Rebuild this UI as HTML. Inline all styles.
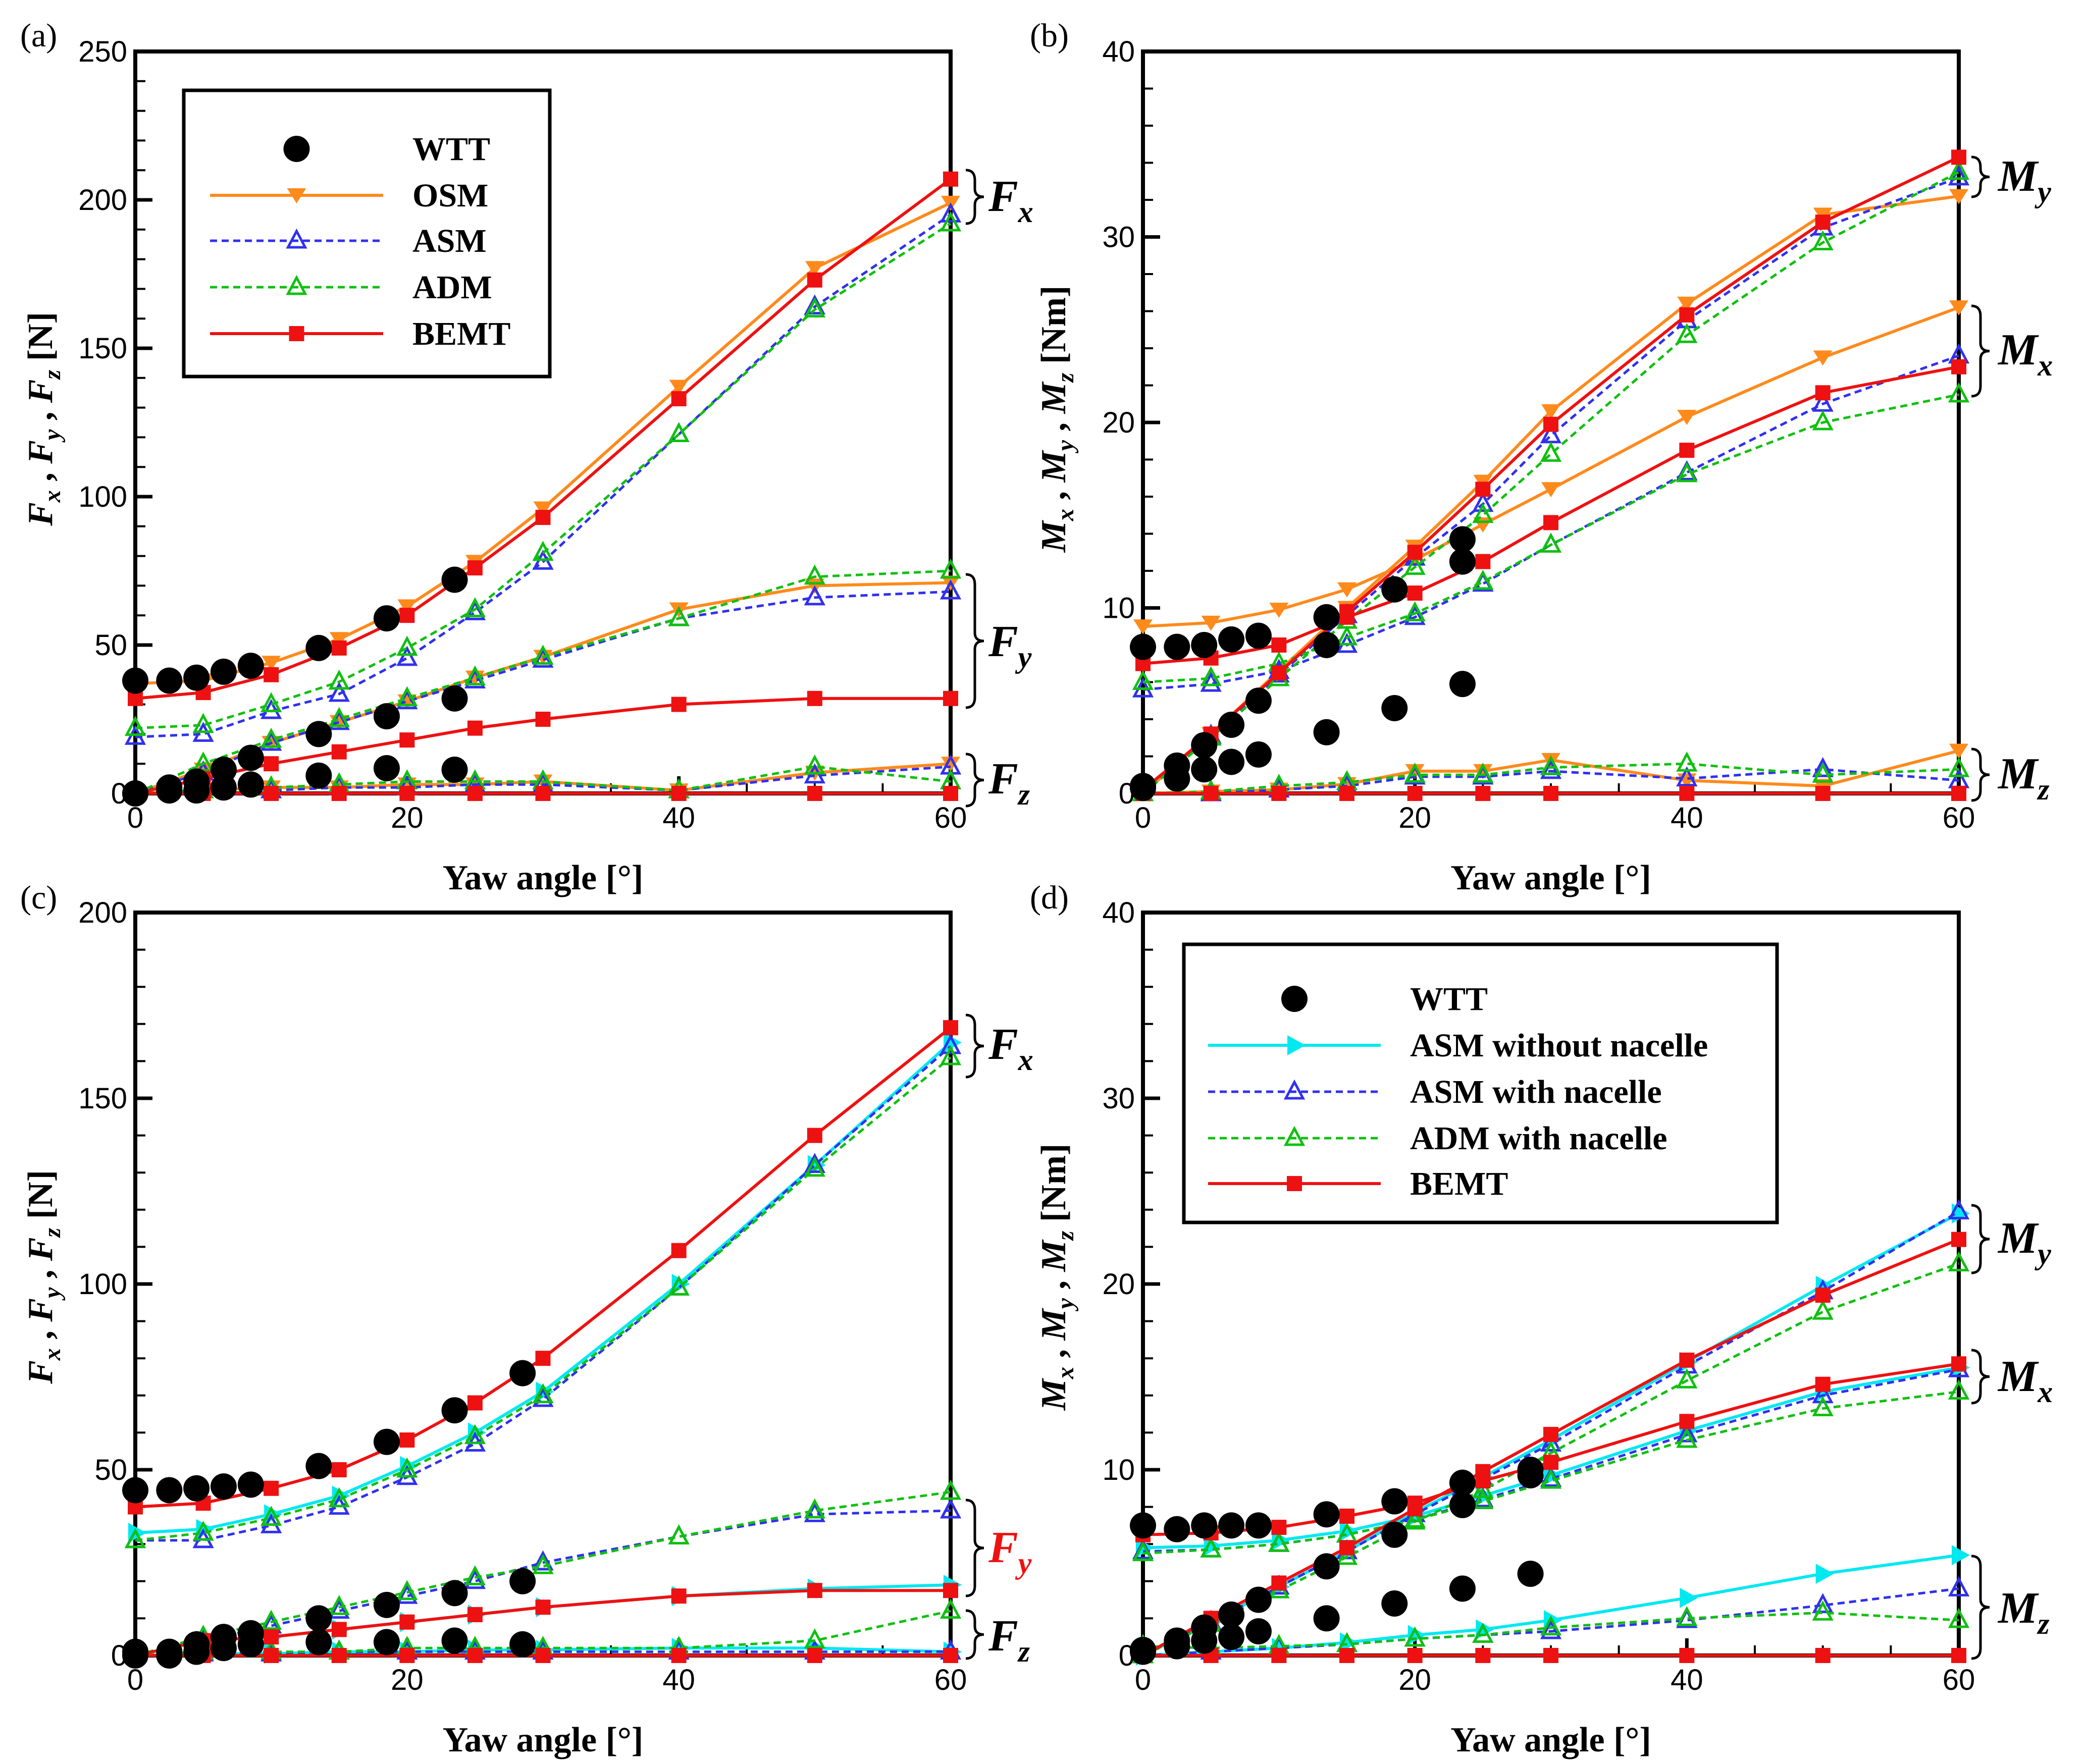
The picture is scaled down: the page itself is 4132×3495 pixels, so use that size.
<!DOCTYPE html>
<html><head><meta charset="utf-8"><style>
html,body{margin:0;padding:0;background:#fff}
svg{display:block}
</style></head><body>
<svg id="fig" xmlns="http://www.w3.org/2000/svg" width="4132" height="3495" viewBox="0 0 4132 3495">
<rect x="0" y="0" width="4132" height="3495" fill="#fff"/>
</svg>
<script>
// ---------- data ----------
const xModel = [0,5,10,15,20,25,30,40,50,60];
const xWttAB = [0,2.5,4.5,6.5,8.5,13.5,18.5,23.5];
const xWttCD = [0,2.5,4.5,6.5,8.5,13.5,18.5,23.5,28.5];
// panel a
const aWttFx = [38,38,39,41,43,49,59,72];
const aWttFy = [0,2,4,8,12,20,26,32];
const aWttFz = [0,1,1,2,3,6,8.5,8];
const aOsmFx = [37,38,44,52,63,78,96,137,177,199];
const aAsmFx = [19,20,27.7,33.5,45.6,61,78,121,164,195];
const aAdmFx = [22,23,30,37.6,49,62,81,121,163,192];
const aBemtFx = [32,34,40,49,60,76,93,133,173,207];
const aOsmFy = [0,8,17,24,31,39,46,62,70,71];
const aAsmFy = [0,7,17,24,31,38,45,59,66,68];
const aAdmFy = [0,10,18,25,32,39,46,59,73,75];
const aBemtFy = [0,5,10,14,18,22,25,30,32,32];
const aOsmFz = [0,1,2,2,3,3,4,1,7,10];
const aAsmFz = [0,1,1,2,2,3,3,1,6,9];
const aAdmFz = [0,1,2,3,4,4,4,1,9,4];
const aBemtFz = [0,0,0,0,0,0,0,0,0,0];
// panel b
const bWttA = [7.9,7.9,8,8.3,8.5,9.5,11,13.7];
const bWttB = [0.4,1.5,2.6,3.7,5,8,11,12.5];
const bWttC = [0.3,0.8,1.3,1.7,2.1,3.3,4.6,5.9];
const bOsmMy = [0,3.2,6.6,10,13.3,16.8,20.6,26.4,31.2,32.2];
const bAsmMy = [0,3.1,6.4,9.6,12.7,15.6,19.3,25.5,30.5,33.2];
const bAdmMy = [0,3,6.2,9.3,12.2,15,18.3,24.7,29.7,33.5];
const bBemtMy = [0.2,3.2,6.5,9.8,13,16.4,19.9,25.8,30.8,34.3];
const bOsmMx = [9,9.2,9.9,11,12.6,14.5,16.4,20.3,23.5,26.2];
const bAsmMx = [5.6,5.9,6.6,8,9.5,11.3,13.4,17.3,21,23.6];
const bAdmMx = [6,6.2,7,8.4,9.7,11.4,13.4,17.2,20,21.5];
const bBemtMx = [7,7.3,8,9.5,10.8,12.5,14.6,18.5,21.6,23];
const bOsmMz = [0,0.1,0.2,0.5,1.2,1.2,1.8,0.7,0.4,2.3];
const bAsmMz = [0,0,0.2,0.4,0.9,0.9,1.2,0.8,1.3,0.7];
const bAdmMz = [0,0.1,0.4,0.6,1.0,1.0,1.4,1.6,1.0,1.3];
const bBemtMz = [0,0,0,0,0,0,0,0,0,0];
// panel c
const cWttFx = [44.5,44.5,45,45.5,46,51,57.5,66,76];
const cWttFy = [1,1,3,5,6,10,13.6,16.8,20];
const cWttFz = [0,0,1,2,3,3.6,3.6,4,3];
const cBemtFx = [40,41,45,50,58,68,80,109,140,169];
const cCyanFx = [33,34,38,43,51,60,71,100,132,165];
const cBlueFx = [31,31,35,40,48,57,69,99,132,164];
const cGreenFx = [31,33,37,42,50,59,70,99,131,161];
const cBemtFy = [0,4,5,7,9,11,13,16,17.5,17.5];
const cCyanFy = [0,4,5,7,9,11,13,16,18,19];
const cBlueFy = [0,4,8,12,16,20,25,32,38,39];
const cGreenFy = [0,5,9,13,17,21,24,32,39,44];
const cBemtFz = [0,0,0,0,0,0,0,0,0,0];
const cCyanFz = [0,0.5,0.5,1,1,1.5,1.5,2,2,1];
const cBlueFz = [0,0.5,0.5,1,1,1,1,1,1,1];
const cGreenFz = [0,1,1,1,2,2,2,2,4,12];
// panel d
const dWttA = [7,6.8,7,7,7,7.6,8.3,9.3,10];
const dWttB = [0.3,0.8,1.5,2.2,3,4.8,6.5,8.1,9.7];
const dWttC = [0.2,0.5,0.8,1,1.3,2,2.8,3.6,4.4];
const dBemtMy = [0,2,3.9,5.8,7.9,9.9,11.9,15.9,19.4,22.4];
const dCyanMy = [0,1.8,3.7,5.6,7.7,9.6,11.6,15.8,19.9,23.8];
const dBlueMy = [0,1.8,3.7,5.6,7.6,9.5,11.4,15.6,19.6,23.9];
const dGreenMy = [0,1.7,3.5,5.3,7.2,8.9,10.9,14.8,18.5,21.1];
const dBemtMx = [6.5,6.6,6.9,7.5,8.2,9.4,10.4,12.6,14.6,15.7];
const dCyanMx = [5.8,5.9,6.2,6.7,7.5,8.6,9.7,12.1,14.2,15.5];
const dBlueMx = [5.6,5.7,6.0,6.5,7.3,8.4,9.5,11.9,14.0,15.4];
const dGreenMx = [5.5,5.7,6.0,6.5,7.3,8.3,9.4,11.6,13.3,14.2];
const dBemtMz = [0,0,0,0,0,0,0,0,0,0];
const dCyanMz = [0,0.2,0.4,0.7,1.1,1.4,1.9,3.1,4.4,5.4];
const dBlueMz = [0,0.2,0.4,0.6,0.9,1.1,1.3,1.9,2.7,3.6];
const dGreenMz = [0.5,0.4,0.5,0.6,0.9,1.1,1.5,2.0,2.3,1.9];
const xTicks = [0,20,40,60];
const yTicksA = [0,50,100,150,200,250];
const yTicksB = [0,10,20,30,40];
const yTicksC = [0,50,100,150,200];

// ---------- drawing ----------
const NS='http://www.w3.org/2000/svg';
const svg=document.getElementById('fig');
const C={orange:'#ff8a1c',blue:'#3030f0',green:'#10c010',red:'#ee1111',cyan:'#00e8f0'};
function mk(tag,attrs,parent){const e=document.createElementNS(NS,tag);for(const k in attrs)e.setAttribute(k,attrs[k]);(parent||svg).appendChild(e);return e;}

function panel(id,X0,Y0,W,H,ymax,yticks,minorY,minorX){
  const g=mk('g',{});
  
  
  const sx=v=>X0+v/60*W, sy=v=>Y0-v/ymax*H;
  for(let v=0;v<=60;v+=minorX){const major=xTicks.includes(v);const t=mk('line',{x1:sx(v),x2:sx(v),y1:Y0,y2:Y0-(major?34:20),stroke:'#000','stroke-width':major?7:4},g);
    }
  for(let v=0;v<=ymax+1e-9;v+=minorY){const major=yticks.some(t=>Math.abs(t-v)<1e-9);const t=mk('line',{x1:X0,x2:X0+(major?34:20),y1:sy(v),y2:sy(v),stroke:'#000','stroke-width':major?7:4},g);
    }
  xTicks.forEach(v=>{const t=mk('text',{x:sx(v),y:Y0+68,'text-anchor':'middle','font-family':'Liberation Sans, sans-serif','font-size':58},g);t.textContent=v;
    });
  yticks.forEach(v=>{const t=mk('text',{x:X0-16,y:sy(v)+20,'text-anchor':'end','font-family':'Liberation Sans, sans-serif','font-size':58},g);t.textContent=v;
    });
  const fr=mk('rect',{x:X0,y:Y0-H,width:W,height:H,fill:'none',stroke:'#000','stroke-width':8},g);
  
  const xt=mk('text',{x:X0+W/2,y:Y0+190,'text-anchor':'middle','font-family':'Liberation Serif, serif','font-weight':'bold','font-size':70},g);
  xt.textContent='Yaw angle [°]';
  
  return {g,sx,sy};
}

function marker(g,type,x,y,color){
  let e;
  if(type==='circle')e=mk('circle',{cx:x,cy:y,r:26,fill:'#000'},g);
  else if(type==='tri')e=mk('path',{d:`M${x},${y-19} L${x+17},${y+13} L${x-17},${y+13} Z`,fill:'none',stroke:color,'stroke-width':5},g);
  else if(type==='sq')e=mk('rect',{x:x-15,y:y-15,width:30,height:30,fill:color},g);
  else if(type==='dtri')e=mk('path',{d:`M${x-19},${y-14} L${x+19},${y-14} L${x},${y+16} Z`,fill:color},g);
  else if(type==='rtri')e=mk('path',{d:`M${x-14},${y-20} L${x+22},${y} L${x-14},${y+20} Z`,fill:color},g);
  
  
  return e;
}

function series(P,name,xs,ys,color,type,dashed,noLine){
  const g=mk('g',{},P.g);
  
  
  if(!noLine){
    const pts=xs.map((x,i)=>P.sx(x)+','+P.sy(ys[i])).join(' ');
    const l=mk('polyline',{points:pts,fill:'none',stroke:color,'stroke-width':dashed?5:6,'stroke-dasharray':dashed?'14 9':'none'},g);
    
  }
  xs.forEach((x,i)=>marker(g,type,P.sx(x),P.sy(ys[i]),color));
}

function brace(x,y1,y2,g){
  const m=(y1+y2)/2,w=18;
  const b=mk('path',{d:`M${x},${y1} Q${x+w},${y1} ${x+w},${y1+20} L${x+w},${m-16} Q${x+w},${m} ${x+2*w},${m} Q${x+w},${m} ${x+w},${m+16} L${x+w},${y2-20} Q${x+w},${y2} ${x},${y2}`,fill:'none',stroke:'#000','stroke-width':5},g||svg);
  
}
function bigLabel(x,y,main,sub,color){
  const t=mk('text',{x:x,y:y,'font-family':'Liberation Serif, serif','font-weight':'bold','font-style':'italic','font-size':88,fill:color||'#000'});
  t.innerHTML=main+'<tspan font-size="60" dy="22">'+sub+'</tspan>';
  
  
}
function ytitle(cx,cy,sym,unit){
  const t=mk('text',{x:0,y:0,transform:`translate(${cx},${cy}) rotate(-90)`,'text-anchor':'middle','font-family':'Liberation Serif, serif','font-weight':'bold','font-size':70});
  t.innerHTML=`<tspan font-style="italic">${sym}</tspan><tspan font-style="italic" font-size="48" dy="16">x</tspan><tspan dy="-16"> , </tspan><tspan font-style="italic">${sym}</tspan><tspan font-style="italic" font-size="48" dy="16">y</tspan><tspan dy="-16"> , </tspan><tspan font-style="italic">${sym}</tspan><tspan font-style="italic" font-size="48" dy="16">z</tspan><tspan dy="-16"> ${unit}</tspan>`;
  
}
function plabel(x,y,s){const t=mk('text',{x:x,y:y,'font-family':'Liberation Serif, serif','font-size':66});t.textContent=s;
  }

// panel a
const A=panel('a',268,1572,1615,1470,250,yTicksA,10,5);
[['osm-fx',aOsmFx],['osm-fy',aOsmFy],['osm-fz',aOsmFz]].forEach(s=>series(A,s[0],xModel,s[1],C.orange,'dtri',false));
[['asm-fx',aAsmFx],['asm-fy',aAsmFy],['asm-fz',aAsmFz]].forEach(s=>series(A,s[0],xModel,s[1],C.blue,'tri',true));
[['adm-fx',aAdmFx],['adm-fy',aAdmFy],['adm-fz',aAdmFz]].forEach(s=>series(A,s[0],xModel,s[1],C.green,'tri',true));
[['bemt-fx',aBemtFx],['bemt-fy',aBemtFy],['bemt-fz',aBemtFz]].forEach(s=>series(A,s[0],xModel,s[1],C.red,'sq',false));
[['wtt-fx',aWttFx],['wtt-fy',aWttFy],['wtt-fz',aWttFz]].forEach(s=>series(A,s[0],xWttAB,s[1],'#000','circle',false,true));
// panel b
const B=panel('b',2264,1572,1616,1470,40,yTicksB,2,5);
[['osm-my',bOsmMy],['osm-mx',bOsmMx],['osm-mz',bOsmMz]].forEach(s=>series(B,s[0],xModel,s[1],C.orange,'dtri',false));
[['asm-my',bAsmMy],['asm-mx',bAsmMx],['asm-mz',bAsmMz]].forEach(s=>series(B,s[0],xModel,s[1],C.blue,'tri',true));
[['adm-my',bAdmMy],['adm-mx',bAdmMx],['adm-mz',bAdmMz]].forEach(s=>series(B,s[0],xModel,s[1],C.green,'tri',true));
[['bemt-my',bBemtMy],['bemt-mx',bBemtMx],['bemt-mz',bBemtMz]].forEach(s=>series(B,s[0],xModel,s[1],C.red,'sq',false));
[['wtt-a',bWttA],['wtt-b',bWttB],['wtt-c',bWttC]].forEach(s=>series(B,s[0],xWttAB,s[1],'#000','circle',false,true));
// panel c
const Cp=panel('c',268,3280,1615,1472,200,yTicksC,10,5);
[['asm-wo-fx',cCyanFx],['asm-wo-fy',cCyanFy],['asm-wo-fz',cCyanFz]].forEach(s=>series(Cp,s[0],xModel,s[1],C.cyan,'rtri',false));
[['asm-fx',cBlueFx],['asm-fy',cBlueFy],['asm-fz',cBlueFz]].forEach(s=>series(Cp,s[0],xModel,s[1],C.blue,'tri',true));
[['adm-fx',cGreenFx],['adm-fy',cGreenFy],['adm-fz',cGreenFz]].forEach(s=>series(Cp,s[0],xModel,s[1],C.green,'tri',true));
[['bemt-fx',cBemtFx],['bemt-fy',cBemtFy],['bemt-fz',cBemtFz]].forEach(s=>series(Cp,s[0],xModel,s[1],C.red,'sq',false));
[['wtt-fx',cWttFx],['wtt-fy',cWttFy],['wtt-fz',cWttFz]].forEach(s=>series(Cp,s[0],xWttCD,s[1],'#000','circle',false,true));
// panel d
const D=panel('d',2264,3280,1616,1472,40,yTicksB,2,5);
[['asm-wo-my',dCyanMy],['asm-wo-mx',dCyanMx],['asm-wo-mz',dCyanMz]].forEach(s=>series(D,s[0],xModel,s[1],C.cyan,'rtri',false));
[['asm-my',dBlueMy],['asm-mx',dBlueMx],['asm-mz',dBlueMz]].forEach(s=>series(D,s[0],xModel,s[1],C.blue,'tri',true));
[['adm-my',dGreenMy],['adm-mx',dGreenMx],['adm-mz',dGreenMz]].forEach(s=>series(D,s[0],xModel,s[1],C.green,'tri',true));
[['bemt-my',dBemtMy],['bemt-mx',dBemtMx],['bemt-mz',dBemtMz]].forEach(s=>series(D,s[0],xModel,s[1],C.red,'sq',false));
[['wtt-a',dWttA],['wtt-b',dWttB],['wtt-c',dWttC]].forEach(s=>series(D,s[0],xWttCD,s[1],'#000','circle',false,true));

// axis titles & panel labels
ytitle(103,830,'F','[N]');
ytitle(2110,830,'M','[Nm]');
ytitle(103,2530,'F','[N]');
ytitle(2110,2530,'M','[Nm]');
plabel(40,92,'(a)');plabel(2040,92,'(b)');plabel(40,1800,'(c)');plabel(2040,1800,'(d)');

// braces and labels
brace(1913,337,443);bigLabel(1958,418,'F','x');
brace(1913,1138,1402);bigLabel(1958,1300,'F','y');
brace(1913,1494,1597);bigLabel(1958,1572,'F','z');
brace(3905,311,390);bigLabel(3958,378,'M','y');
brace(3905,606,785);bigLabel(3958,722,'M','x');
brace(3905,1484,1586);bigLabel(3958,1562,'M','z');
brace(1913,2011,2134);bigLabel(1958,2098,'F','x');
brace(1913,2972,3162,null);bigLabel(1958,3095,'F','y',C.red);
brace(1913,3191,3286);bigLabel(1958,3270,'F','z');
brace(3905,2388,2522);bigLabel(3958,2482,'M','y');
brace(3905,2675,2780);bigLabel(3958,2756,'M','x');
brace(3905,3083,3286);bigLabel(3958,3215,'M','z');

// legends
function legend(name,x,y,w,h,entries,lx1,lx2,tx,ys){
  const g=mk('g',{});
  
  mk('rect',{x:x,y:y,width:w,height:h,fill:'#fff',stroke:'#000','stroke-width':7},g);
  entries.forEach((e,i)=>{
    const eg=mk('g',{},g);
    
    if(e[3]!=='none'){mk('line',{x1:lx1,x2:lx2,y1:ys[i],y2:ys[i],stroke:e[1],'stroke-width':e[3]==='dash'?5:6,'stroke-dasharray':e[3]==='dash'?'14 9':'none'},eg);}
    marker(eg,e[2],(lx1+lx2)/2,ys[i],e[1]);
    const t=mk('text',{x:tx,y:ys[i]+22,'font-family':'Liberation Serif, serif','font-weight':'bold','font-size':66},eg);
    t.textContent=e[0];
  });
}
legend('legend-a',364,179,725,567,[['WTT','#000','circle','none'],['OSM',C.orange,'dtri','solid'],['ASM',C.blue,'tri','dash'],['ADM',C.green,'tri','dash'],['BEMT',C.red,'sq','solid']],416,759,817,[295,387,477,569,661]);
legend('legend-d',2345,1871,1175,551,[['WTT','#000','circle','none'],['ASM without nacelle',C.cyan,'rtri','solid'],['ASM with nacelle',C.blue,'tri','dash'],['ADM with nacelle',C.green,'tri','dash'],['BEMT',C.red,'sq','solid']],2393,2735,2793,[1979,2071,2163,2255,2345]);
</script>
</body></html>
